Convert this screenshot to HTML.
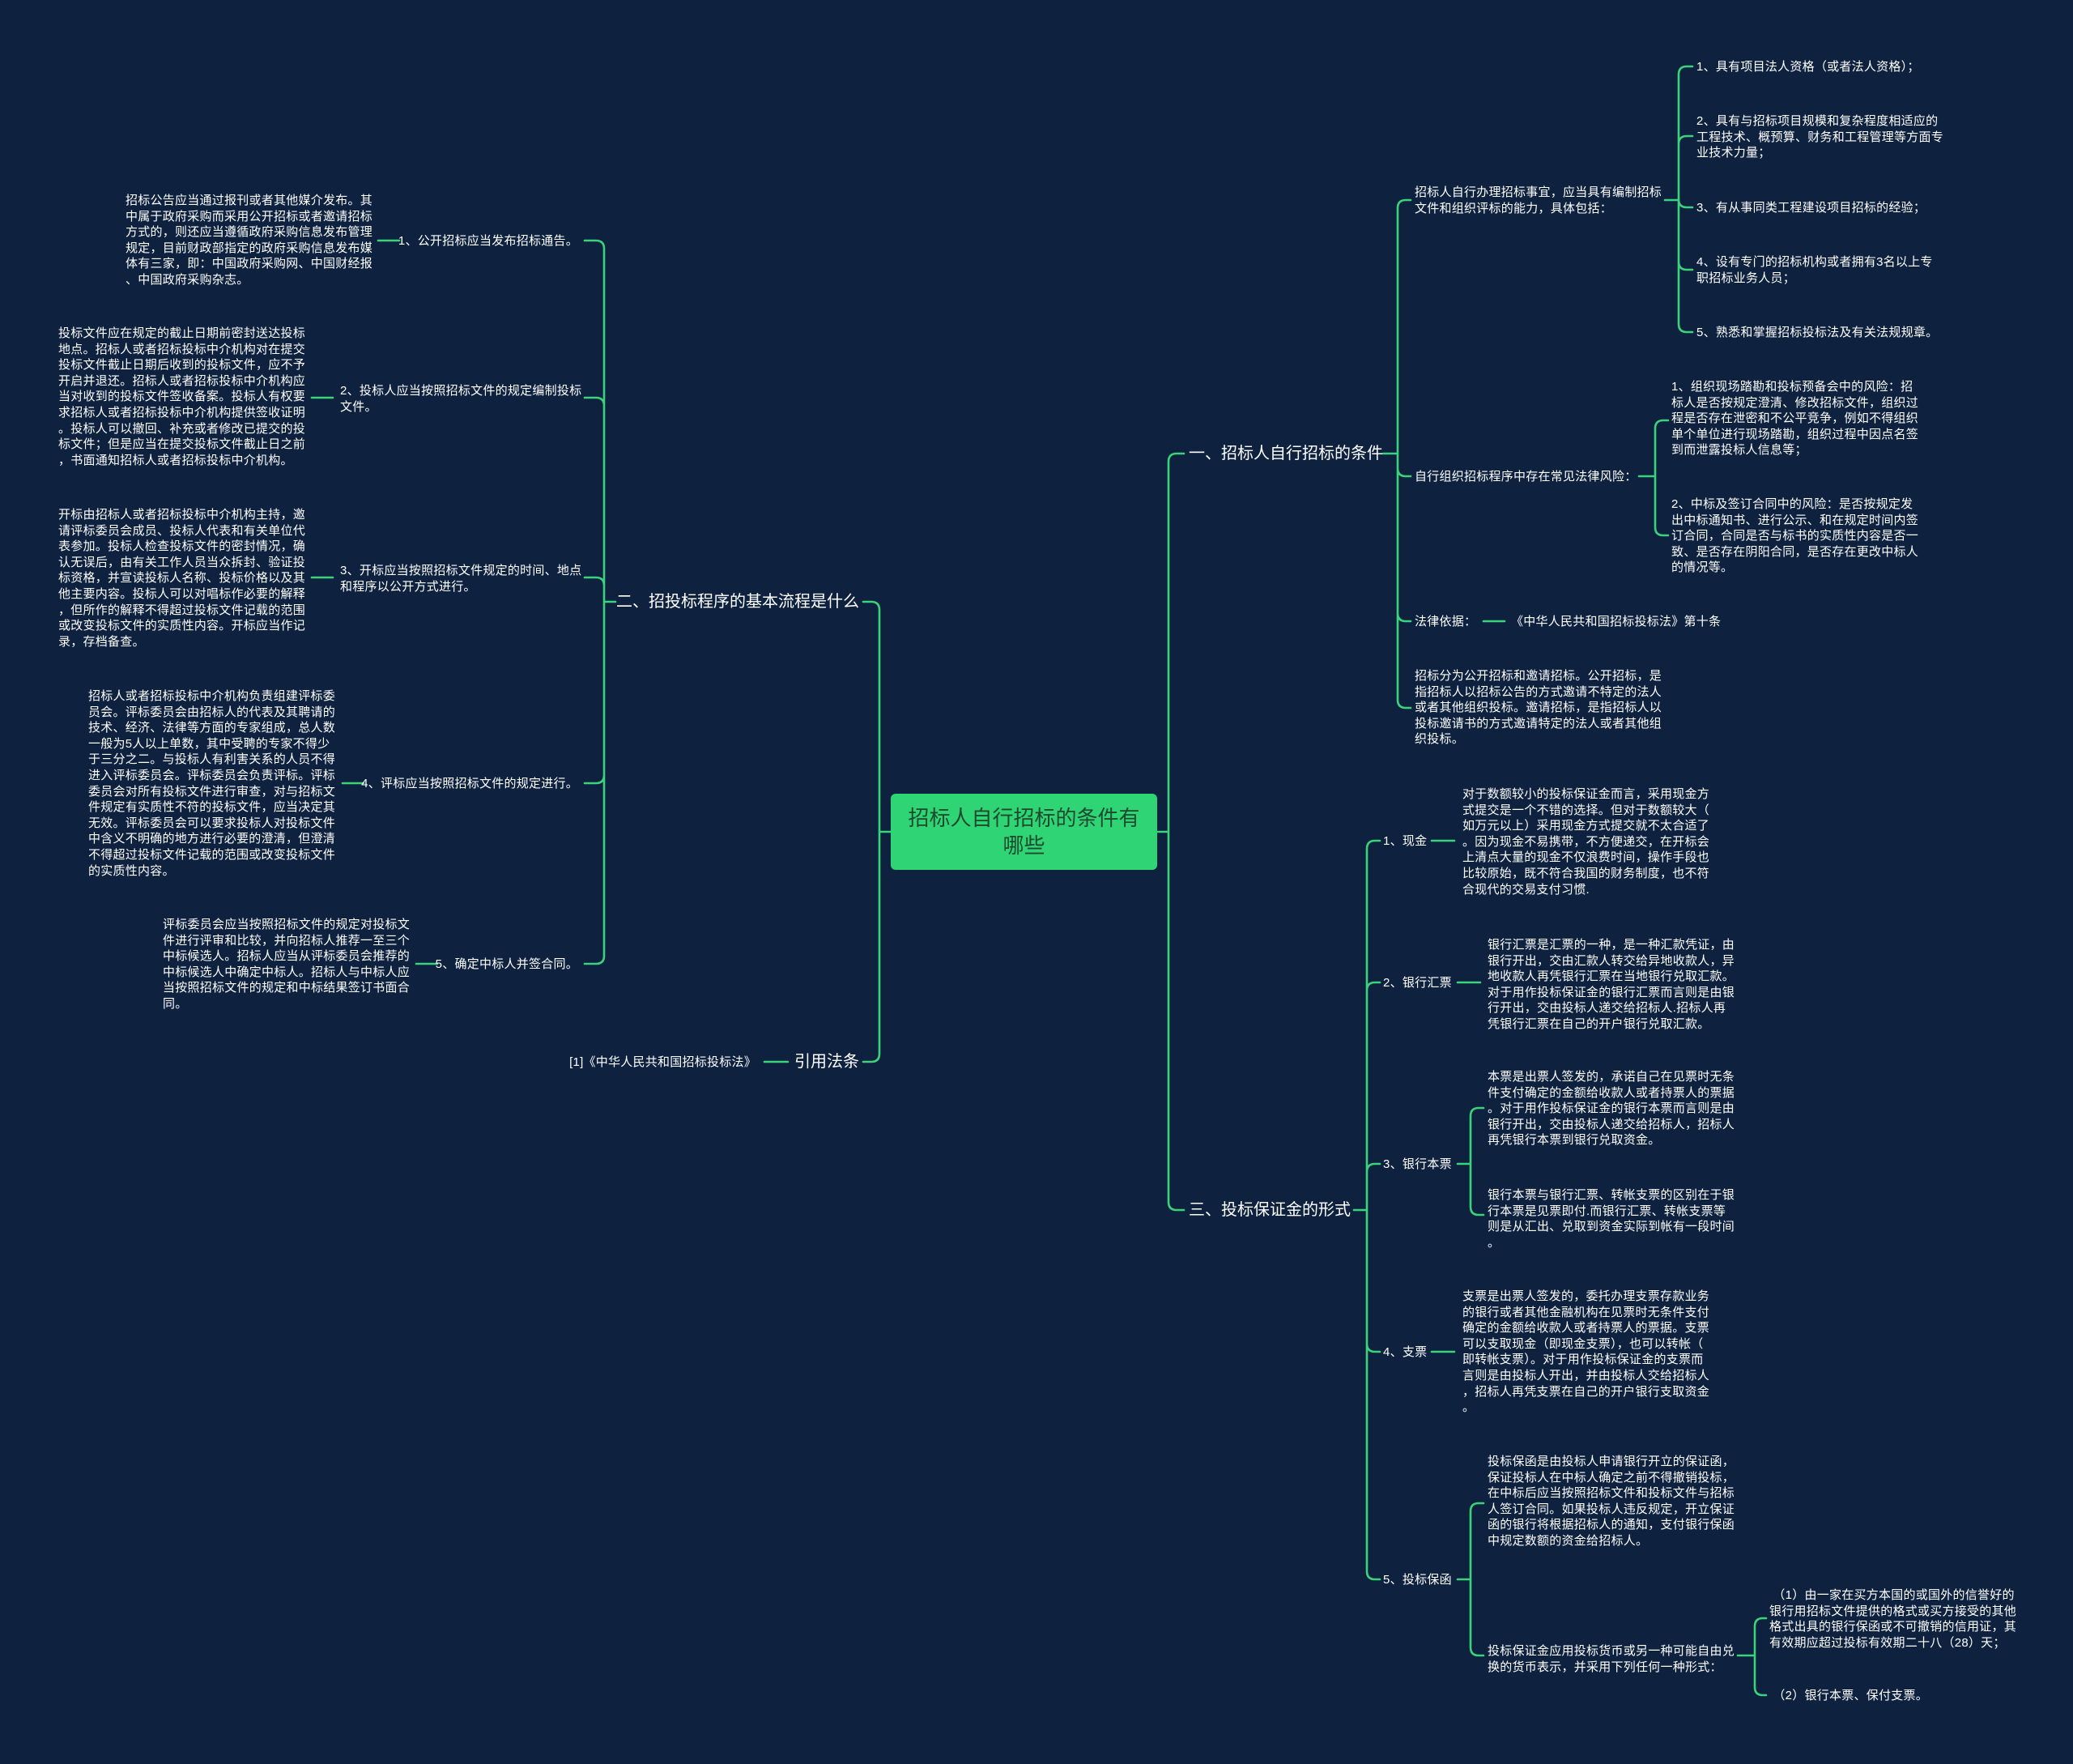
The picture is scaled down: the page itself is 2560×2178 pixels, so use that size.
<!DOCTYPE html>
<html><head><meta charset="utf-8"><style>
html,body{margin:0;padding:0;}
body{width:2560px;height:2178px;background:#0e223f;position:relative;overflow:hidden;font-family:"Liberation Sans","Noto Sans CJK SC",sans-serif;color:#fff;}
.t{position:absolute;font-size:15px;line-height:19.6px;letter-spacing:0.25px;white-space:nowrap;margin-top:1px;}
.b{position:absolute;font-size:20px;line-height:26px;white-space:nowrap;letter-spacing:0;}
.r{text-align:right;}
#c{position:absolute;left:1100px;top:980px;width:329px;height:94px;background:#2fd474;border-radius:6px;color:#1d4a2e;font-size:26px;line-height:34px;text-align:center;box-sizing:border-box;padding-top:13px;}
svg{position:absolute;left:0;top:0;}
</style></head><body>
<svg width="2560" height="2178" fill="none" stroke="#3bd27a" stroke-width="2.6" stroke-linecap="round">
<path d="M1430,1027 H1443 M1443,570 V1484 M1443,570 Q1443,560 1453,560 H1462 M1443,1484 Q1443,1494 1453,1494 H1462"/>
<path d="M1708,560 H1726 M1726,257 V864 M1726,257 Q1726,247 1736,247 H1742 M1726,578 Q1726,588 1736,588 H1742 M1726,757 Q1726,767 1736,767 H1742 M1726,864 Q1726,874 1736,874 H1742"/>
<path d="M2056,247 H2073 M2073,92 V400 M2073,92 Q2073,82 2083,82 H2090 M2073,178 Q2073,168 2083,168 H2090 M2073,246 Q2073,256 2083,256 H2090 M2073,323 Q2073,333 2083,333 H2090 M2073,400 Q2073,410 2083,410 H2090"/>
<path d="M2024,588 H2044 M2044,529 V651 M2044,529 Q2044,519 2054,519 H2060 M2044,651 Q2044,661 2054,661 H2060"/>
<path d="M1832,767 H1858"/>
<path d="M1672,1494 H1688 M1688,1048 V1940 M1688,1048 Q1688,1038 1698,1038 H1704 M1688,1223 Q1688,1213 1698,1213 H1704 M1688,1447 Q1688,1437 1698,1437 H1704 M1688,1659 Q1688,1669 1698,1669 H1704 M1688,1940 Q1688,1950 1698,1950 H1704"/>
<path d="M1768,1038 H1796 M1800,1213 H1828 M1768,1669 H1796"/>
<path d="M1800,1437 H1816 M1816,1378 V1490 M1816,1378 Q1816,1368 1826,1368 H1832 M1816,1490 Q1816,1500 1826,1500 H1832"/>
<path d="M1800,1950 H1816 M1816,1866 V2034 M1816,1866 Q1816,1856 1826,1856 H1832 M1816,2034 Q1816,2044 1826,2044 H1832"/>
<path d="M2146,2044 H2167 M2167,2008 V2083 M2167,2008 Q2167,1998 2177,1998 H2181 M2167,2083 Q2167,2093 2177,2093 H2181"/>
<path d="M1100,1027 H1086 M1086,753 V1301 M1086,753 Q1086,743 1076,743 H1066 M1086,1301 Q1086,1311 1076,1311 H1066"/>
<path d="M746,743 H760 M746,307 V1180 M746,307 Q746,297 736,297 H722 M746,501 Q746,491 736,491 H722 M746,723 Q746,713 736,713 H722 M746,957 Q746,967 736,967 H722 M746,1180 Q746,1190 736,1190 H722"/>
<path d="M467,297 H493 M385,491 H411 M385,713 H411 M423,967 H449 M514,1190 H540 M944,1311 H973"/>
</svg>

<div id="c">招标人自行招标的条件有<br>哪些</div>

<div class="b" style="left:1468px;top:547px;">一、招标人自行招标的条件</div>
<div class="t" style="left:1747px;top:227px;">招标人自行办理招标事宜，应当具有编制招标<br>文件和组织评标的能力，具体包括：</div>
<div class="t" style="left:2095px;top:72px;">1、具有项目法人资格（或者法人资格）；</div>
<div class="t" style="left:2095px;top:139px;">2、具有与招标项目规模和复杂程度相适应的<br>工程技术、概预算、财务和工程管理等方面专<br>业技术力量；</div>
<div class="t" style="left:2095px;top:246px;">3、有从事同类工程建设项目招标的经验；</div>
<div class="t" style="left:2095px;top:313px;">4、设有专门的招标机构或者拥有3名以上专<br>职招标业务人员；</div>
<div class="t" style="left:2095px;top:400px;">5、熟悉和掌握招标投标法及有关法规规章。</div>
<div class="t" style="left:1747px;top:578px;">自行组织招标程序中存在常见法律风险：</div>
<div class="t" style="left:2064px;top:467px;">1、组织现场踏勘和投标预备会中的风险：招<br>标人是否按规定澄清、修改招标文件，组织过<br>程是否存在泄密和不公平竞争，例如不得组织<br>单个单位进行现场踏勘，组织过程中因点名签<br>到而泄露投标人信息等；</div>
<div class="t" style="left:2064px;top:612px;">2、中标及签订合同中的风险：是否按规定发<br>出中标通知书、进行公示、和在规定时间内签<br>订合同，合同是否与标书的实质性内容是否一<br>致、是否存在阴阳合同，是否存在更改中标人<br>的情况等。</div>
<div class="t" style="left:1747px;top:757px;">法律依据：</div>
<div class="t" style="left:1866px;top:757px;">《中华人民共和国招标投标法》第十条</div>
<div class="t" style="left:1747px;top:824px;">招标分为公开招标和邀请招标。公开招标，是<br>指招标人以招标公告的方式邀请不特定的法人<br>或者其他组织投标。邀请招标，是指招标人以<br>投标邀请书的方式邀请特定的法人或者其他组<br>织投标。</div>

<div class="b" style="left:1468px;top:1481px;">三、投标保证金的形式</div>
<div class="t" style="left:1708px;top:1028px;">1、现金</div>
<div class="t" style="left:1806px;top:970px;">对于数额较小的投标保证金而言，采用现金方<br>式提交是一个不错的选择。但对于数额较大（<br>如万元以上）采用现金方式提交就不太合适了<br>。因为现金不易携带，不方便递交，在开标会<br>上清点大量的现金不仅浪费时间，操作手段也<br>比较原始，既不符合我国的财务制度，也不符<br>合现代的交易支付习惯.</div>
<div class="t" style="left:1708px;top:1203px;">2、银行汇票</div>
<div class="t" style="left:1837px;top:1156px;">银行汇票是汇票的一种，是一种汇款凭证，由<br>银行开出，交由汇款人转交给异地收款人，异<br>地收款人再凭银行汇票在当地银行兑取汇款。<br>对于用作投标保证金的银行汇票而言则是由银<br>行开出，交由投标人递交给招标人.招标人再<br>凭银行汇票在自己的开户银行兑取汇款。</div>
<div class="t" style="left:1708px;top:1427px;">3、银行本票</div>
<div class="t" style="left:1837px;top:1319px;">本票是出票人签发的，承诺自己在见票时无条<br>件支付确定的金额给收款人或者持票人的票据<br>。对于用作投标保证金的银行本票而言则是由<br>银行开出，交由投标人递交给招标人，招标人<br>再凭银行本票到银行兑取资金。</div>
<div class="t" style="left:1837px;top:1465px;">银行本票与银行汇票、转帐支票的区别在于银<br>行本票是见票即付.而银行汇票、转帐支票等<br>则是从汇出、兑取到资金实际到帐有一段时间<br>。</div>
<div class="t" style="left:1708px;top:1659px;">4、支票</div>
<div class="t" style="left:1806px;top:1590px;">支票是出票人签发的，委托办理支票存款业务<br>的银行或者其他金融机构在见票时无条件支付<br>确定的金额给收款人或者持票人的票据。支票<br>可以支取现金（即现金支票），也可以转帐（<br>即转帐支票）。对于用作投标保证金的支票而<br>言则是由投标人开出，并由投标人交给招标人<br>，招标人再凭支票在自己的开户银行支取资金<br>。</div>
<div class="t" style="left:1708px;top:1940px;">5、投标保函</div>
<div class="t" style="left:1837px;top:1794px;">投标保函是由投标人申请银行开立的保证函，<br>保证投标人在中标人确定之前不得撤销投标，<br>在中标后应当按照招标文件和投标文件与招标<br>人签订合同。如果投标人违反规定，开立保证<br>函的银行将根据招标人的通知，支付银行保函<br>中规定数额的资金给招标人。</div>
<div class="t" style="left:1837px;top:2028px;">投标保证金应用投标货币或另一种可能自由兑<br>换的货币表示，并采用下列任何一种形式：</div>
<div class="t" style="left:2185px;top:1959px;">&nbsp;（1）由一家在买方本国的或国外的信誉好的<br>银行用招标文件提供的格式或买方接受的其他<br>格式出具的银行保函或不可撤销的信用证，其<br>有效期应超过投标有效期二十八（28）天；</div>
<div class="t" style="left:2185px;top:2083px;">&nbsp;（2）银行本票、保付支票。</div>

<div class="b r" style="right:1499px;top:730px;">二、招投标程序的基本流程是什么</div>
<div class="b r" style="right:1499px;top:1298px;">引用法条</div>
<div class="t r" style="right:1626px;top:1301px;">[1]《中华人民共和国招标投标法》</div>

<div class="t r" style="right:1846px;top:287px;">1、公开招标应当发布招标通告。</div>
<div class="t" style="left:155px;top:237px;">招标公告应当通过报刊或者其他媒介发布。其<br>中属于政府采购而采用公开招标或者邀请招标<br>方式的，则还应当遵循政府采购信息发布管理<br>规定，目前财政部指定的政府采购信息发布媒<br>体有三家，即：中国政府采购网、中国财经报<br>、中国政府采购杂志。</div>

<div class="t" style="left:420px;top:472px;">2、投标人应当按照招标文件的规定编制投标<br>文件。</div>
<div class="t" style="left:72px;top:401px;">投标文件应在规定的截止日期前密封送达投标<br>地点。招标人或者招标投标中介机构对在提交<br>投标文件截止日期后收到的投标文件，应不予<br>开启并退还。招标人或者招标投标中介机构应<br>当对收到的投标文件签收备案。投标人有权要<br>求招标人或者招标投标中介机构提供签收证明<br>。投标人可以撤回、补充或者修改已提交的投<br>标文件；但是应当在提交投标文件截止日之前<br>，书面通知招标人或者招标投标中介机构。</div>

<div class="t" style="left:420px;top:694px;">3、开标应当按照招标文件规定的时间、地点<br>和程序以公开方式进行。</div>
<div class="t" style="left:72px;top:625px;">开标由招标人或者招标投标中介机构主持，邀<br>请评标委员会成员、投标人代表和有关单位代<br>表参加。投标人检查投标文件的密封情况，确<br>认无误后，由有关工作人员当众拆封、验证投<br>标资格，并宣读投标人名称、投标价格以及其<br>他主要内容。投标人可以对唱标作必要的解释<br>，但所作的解释不得超过投标文件记载的范围<br>或改变投标文件的实质性内容。开标应当作记<br>录，存档备查。</div>

<div class="t r" style="right:1846px;top:957px;">4、评标应当按照招标文件的规定进行。</div>
<div class="t" style="left:109px;top:849px;">招标人或者招标投标中介机构负责组建评标委<br>员会。评标委员会由招标人的代表及其聘请的<br>技术、经济、法律等方面的专家组成，总人数<br>一般为5人以上单数，其中受聘的专家不得少<br>于三分之二。与投标人有利害关系的人员不得<br>进入评标委员会。评标委员会负责评标。评标<br>委员会对所有投标文件进行审查，对与招标文<br>件规定有实质性不符的投标文件，应当决定其<br>无效。评标委员会可以要求投标人对投标文件<br>中含义不明确的地方进行必要的澄清，但澄清<br>不得超过投标文件记载的范围或改变投标文件<br>的实质性内容。</div>

<div class="t r" style="right:1846px;top:1180px;">5、确定中标人并签合同。</div>
<div class="t" style="left:201px;top:1131px;">评标委员会应当按照招标文件的规定对投标文<br>件进行评审和比较，并向招标人推荐一至三个<br>中标候选人。招标人应当从评标委员会推荐的<br>中标候选人中确定中标人。招标人与中标人应<br>当按照招标文件的规定和中标结果签订书面合<br>同。</div>
</body></html>
